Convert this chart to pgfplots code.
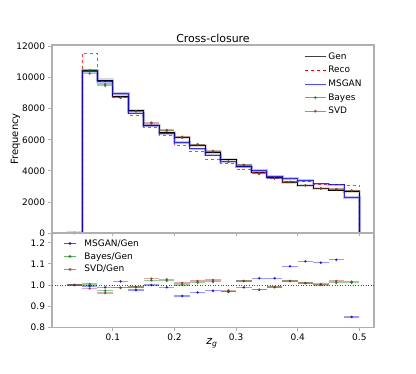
\documentclass[border=0pt]{standalone}
\usepackage{fontspec}
\setmainfont{DejaVu Sans}
\usepackage{pgfplots}
\usepackage{pgfplotstable}
\pgfplotsset{compat=1.18}
\definecolor{spine}{RGB}{176,176,176}
\definecolor{mplgreen}{RGB}{0,128,0}
\definecolor{mplbrown}{RGB}{165,42,42}

% left bin edges, step histograms
\pgfplotstableread{
x     gen   reco  msgan
0.025 0     0     0
0.050 10430 11570 10378
0.075 9850  9740  9742
0.100 8820  8735  8970
0.125 7915  7595  7725
0.150 6900  6820  6900
0.175 6450  6260  6379
0.200 6130  5610  5811
0.225 5610  5230  5414
0.250 5160  4750  5021
0.275 4733  4475  4582
0.300 4300  4065  4253
0.325 3893  3895  4018
0.350 3550  3508  3664
0.375 3228  3335  3515
0.400 3040  3300  3380
0.425 2862  3140  3165
0.450 2770  3120  3102
0.475 2690  3075  2284
0.500 0     0     0
}\histtab

% bin centres, unfolded points
\pgfplotstableread{
x      bayes svd
0.0375 0     0
0.0625 10482 10263
0.0875 9584  9476
0.1125 8705  8705
0.1375 7836  7836
0.1625 7052  7107
0.1875 6579  6624
0.2125 6130  6191
0.2375 5672  5717
0.2625 5243  5284
0.2875 4582  4615
0.3125 4382  4382
0.3375 3807  3807
0.3625 3515  3515
0.3875 3289  3289
0.4125 3067  3067
0.4375 2862  2876
0.4625 2800  2823
0.4875 2720  2733
}\pointtab

% ratios
\pgfplotstableread{
x      msgan bayes svd
0.0375 1.000 1.000 1.000
0.0625 0.995 1.005 0.984
0.0875 0.989 0.973 0.962
0.1125 1.017 0.987 0.987
0.1375 0.976 0.990 0.990
0.1625 1.000 1.022 1.030
0.1875 0.989 1.020 1.027
0.2125 0.948 1.000 1.010
0.2375 0.965 1.011 1.019
0.2625 0.973 1.016 1.024
0.2875 0.968 0.968 0.975
0.3125 0.989 1.019 1.019
0.3375 1.032 0.978 0.978
0.3625 1.032 0.990 0.990
0.3875 1.089 1.019 1.019
0.4125 1.112 1.009 1.009
0.4375 1.106 1.000 1.005
0.4625 1.120 1.011 1.019
0.4875 0.849 1.011 1.016
}\ratiotab

\pgfplotsset{
  common/.style={
    scale only axis, width=322bp, xmin=0.00125, xmax=0.52375,
    axis line style={spine, line width=1.1bp},
    tick style={spine, line width=0.8bp}, tick align=outside,
    major tick length=3.5bp,
    xtick pos=bottom, ytick pos=left,
    /pgf/number format/assume math mode=true,
    tick label style={font=\fontsize{9}{10}\selectfont, black},
    xtick={0.1,0.2,0.3,0.4,0.5},
    clip=true,
  },
  ptstyle/.style={only marks, mark=*, mark size=1.1bp, color=#1, opacity=0.65,
    error bars/x dir=both, error bars/x fixed=0.0125,
    error bars/y dir=both, error bars/y fixed=0.003,
    error bars/error mark=none,
    error bars/error bar style={line width=1.3bp, opacity=0.4, color=#1}},
}

\begin{document}
\begin{tikzpicture}
\path[use as bounding box] (0,0) rectangle (416bp,374bp);

\begin{axis}[common,
  at={(52bp,141bp)}, anchor=south west, height=188bp,
  ymin=0, ymax=12100, ytick={0,2000,4000,6000,8000,10000,12000},
  xticklabels={}, scaled y ticks=false,
  yticklabel style={/pgf/number format/1000 sep={}},
  title={Cross-closure},
  every axis title/.style={at={(axis description cs:0.5,1.033)}, anchor=center, font=\fontsize{11}{12}\selectfont},
  ylabel={Frequency},
  every axis y label/.style={at={(axis description cs:-0.113,0.5)}, rotate=90, anchor=center, font=\fontsize{10}{12}\selectfont},
  legend style={at={(axis description cs:0.783,0.97)}, anchor=north west, draw=none, fill=none,
    font=\fontsize{9}{10}\selectfont, row sep=1.5bp, inner sep=0pt, cells={anchor=west}},
  legend image code/.code={\draw[mark repeat=2, mark phase=2, #1] plot coordinates {(0bp,0bp) (10.5bp,0bp) (21bp,0bp)};},
]
\addlegendimage{black!75, line width=1bp}
\addlegendentry{Gen}
\addlegendimage{red, dashed, line width=0.8bp}
\addlegendentry{Reco}
\addlegendimage{blue, opacity=0.7, line width=1bp}
\addlegendentry{MSGAN}
\addlegendimage{mplgreen, opacity=0.6, line width=0.9bp, mark=*, mark size=1bp}
\addlegendentry{Bayes}
\addlegendimage{mplbrown, opacity=0.6, line width=0.9bp, mark=*, mark size=1bp}
\addlegendentry{SVD}

\addplot[forget plot, const plot, gray, opacity=0.3, line width=3bp] table[x=x, y=gen] {\histtab};
\addplot[forget plot, const plot, black, line width=0.9bp] table[x=x, y=gen] {\histtab};
\addplot[forget plot, const plot, red, dashed, opacity=0.75, line width=0.9bp] table[x=x, y=reco] {\histtab};
\addplot[forget plot, const plot, blue, opacity=0.25, line width=2.6bp] table[x=x, y=msgan] {\histtab};
\addplot[forget plot, const plot, blue, opacity=0.75, line width=0.9bp] table[x=x, y=msgan] {\histtab};
\addplot[forget plot, ptstyle=mplgreen] table[x=x, y=bayes] {\pointtab};
\addplot[forget plot, ptstyle=mplbrown] table[x=x, y=svd] {\pointtab};
\end{axis}

\begin{axis}[common,
  at={(52bp,46.7bp)}, anchor=south west, height=94.3bp,
  ymin=0.8, ymax=1.246, ytick={0.8,0.9,1.0,1.1,1.2},
  yticklabel style={/pgf/number format/.cd, fixed, fixed zerofill, precision=1},
  xticklabel style={/pgf/number format/.cd, fixed, precision=1},
  xlabel={\itshape z\textsubscript{g}},
  every axis x label/.style={at={(axis description cs:0.497,-0.168)}, anchor=center, font=\fontsize{11}{12}\selectfont},
  legend style={at={(axis description cs:0.035,0.955)}, anchor=north west, draw=none, fill=none,
    font=\fontsize{9}{10}\selectfont, row sep=0.8bp, inner sep=0pt, cells={anchor=west}},
  legend image code/.code={\draw[mark repeat=2, mark phase=2, #1] plot coordinates {(0bp,0bp) (6bp,0bp) (12bp,0bp)};},
]
\addlegendimage{blue, opacity=0.7, line width=1bp, mark=*, mark size=1bp}
\addlegendentry{\hspace{6bp}MSGAN/Gen}
\addlegendimage{mplgreen, opacity=0.6, line width=1bp, mark=*, mark size=1bp}
\addlegendentry{\hspace{6bp}Bayes/Gen}
\addlegendimage{mplbrown, opacity=0.6, line width=1bp, mark=*, mark size=1bp}
\addlegendentry{\hspace{6bp}SVD/Gen}

\addplot[forget plot, black!70, dotted, line width=0.6bp] coordinates {(0.00125,1) (0.52375,1)};
\addplot[forget plot, ptstyle=blue] table[x=x, y=msgan] {\ratiotab};
\addplot[forget plot, ptstyle=mplgreen] table[x=x, y=bayes] {\ratiotab};
\addplot[forget plot, ptstyle=mplbrown] table[x=x, y=svd] {\ratiotab};
\end{axis}
\end{tikzpicture}
\end{document}
